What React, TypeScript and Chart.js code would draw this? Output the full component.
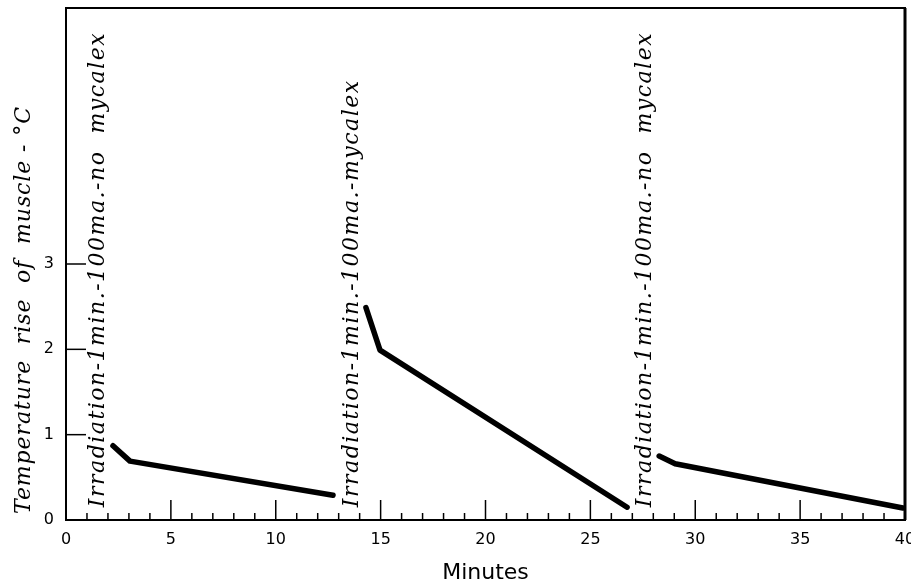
import React, { useEffect, useRef } from "react";
import { Chart, registerables } from "chart.js";

Chart.register(...registerables);

// ---- data ----
const seg1Minutes = [2.24, 3.05, 12.73];
const seg1Rise = [0.87, 0.69, 0.29];
const seg2Minutes = [14.3, 14.97, 26.75];
const seg2Rise = [2.49, 1.99, 0.15];
const seg3Minutes = [28.28, 29.04, 39.9];
const seg3Rise = [0.75, 0.66, 0.14];

const yTickLabels = [0, 1, 2, 3];
const xMajorStep = 5;
const xRange = [0, 40];
const yRange = [0, 6];

const annotationTexts = [
  "Irradiation-1min.-100ma.-no  mycalex",
  "Irradiation-1min.-100ma.-mycalex",
  "Irradiation-1min.-100ma.-no  mycalex",
];
const annotationMinutes = [1.53, 13.64, 27.6];
const annotationStartRise = [0.15, 0.15, 0.15];

const yTitle = "Temperature  rise  of  muscle - °C";
const xTitle = "Minutes";

const toPoints = (xs: number[], ys: number[]) => xs.map((x, i) => ({ x, y: ys[i] }));

const decorPlugin = {
  id: "decor",
  afterDraw(chart: any) {
    const { ctx, chartArea } = chart;
    const xs = chart.scales.x;
    const ys = chart.scales.y;
    ctx.save();
    ctx.strokeStyle = "#000";
    ctx.fillStyle = "#000";
    // frame
    ctx.lineWidth = 2;
    ctx.strokeRect(chartArea.left, chartArea.top, chartArea.right - chartArea.left, chartArea.bottom - chartArea.top);
    ctx.lineWidth = 3;
    ctx.beginPath();
    ctx.moveTo(chartArea.right, chartArea.top);
    ctx.lineTo(chartArea.right, chartArea.bottom);
    ctx.stroke();
    // x ticks (inward)
    ctx.lineWidth = 1.5;
    for (let m = xRange[0] + 1; m < xRange[1]; m++) {
      const px = xs.getPixelForValue(m);
      const len = m % xMajorStep === 0 ? 20 : 7;
      ctx.beginPath();
      ctx.moveTo(px, chartArea.bottom);
      ctx.lineTo(px, chartArea.bottom - len);
      ctx.stroke();
    }
    // y ticks (inward)
    for (const v of yTickLabels) {
      if (v === 0) continue;
      const py = ys.getPixelForValue(v);
      ctx.beginPath();
      ctx.moveTo(chartArea.left, py);
      ctx.lineTo(chartArea.left + 20, py);
      ctx.stroke();
    }
    // annotations
    ctx.font = "italic 22px 'DejaVu Serif'";
    (ctx as any).letterSpacing = "1.5px";
    ctx.textAlign = "left";
    ctx.textBaseline = "middle";
    annotationTexts.forEach((t, i) => {
      const px = xs.getPixelForValue(annotationMinutes[i]);
      const py = ys.getPixelForValue(annotationStartRise[i]);
      ctx.save();
      ctx.translate(px, py);
      ctx.rotate(-Math.PI / 2);
      ctx.fillText(t, 0, 0);
      ctx.restore();
    });
    // y title
    ctx.font = "italic 22px 'DejaVu Serif'";
    (ctx as any).letterSpacing = "0.9px";
    ctx.textAlign = "center";
    ctx.save();
    ctx.translate(24, (chartArea.top + chartArea.bottom) / 2 + 46);
    ctx.rotate(-Math.PI / 2);
    ctx.fillText(yTitle, 0, 0);
    ctx.restore();
    ctx.restore();
  },
};

export default function App() {
  const ref = useRef<HTMLCanvasElement | null>(null);
  useEffect(() => {
    if (!ref.current) return;
    const lineStyle = {
      borderColor: "#000",
      borderWidth: 5.5,
      pointRadius: 0,
      borderCapStyle: "round" as const,
      borderJoinStyle: "round" as const,
      tension: 0,
      fill: false,
    };
    const chart = new Chart(ref.current, {
      type: "line",
      data: {
        datasets: [
          { ...lineStyle, data: toPoints(seg1Minutes, seg1Rise) },
          { ...lineStyle, data: toPoints(seg2Minutes, seg2Rise) },
          { ...lineStyle, data: toPoints(seg3Minutes, seg3Rise) },
        ],
      },
      options: {
        animation: false,
        responsive: false,
        layout: { padding: { top: 8, right: 6, left: 0, bottom: 0 } },
        plugins: { legend: { display: false }, tooltip: { enabled: false } },
        scales: {
          x: {
            type: "linear",
            min: xRange[0],
            max: xRange[1],
            grid: { display: true, drawOnChartArea: false, drawTicks: false },
            border: { display: false },
            ticks: {
              stepSize: xMajorStep,
              padding: 10,
              color: "#000",
              font: { family: "'DejaVu Sans'", size: 16 },
              maxRotation: 0,
            },
            title: {
              display: true,
              text: xTitle,
              color: "#000",
              font: { family: "'DejaVu Sans'", size: 22 },
              padding: { top: 0, bottom: 0 },
            },
            afterFit(scale: any) {
              scale.height = 66;
              scale.paddingLeft = 0;
              scale.paddingRight = 0;
            },
          },
          y: {
            type: "linear",
            min: yRange[0],
            max: yRange[1],
            grid: { display: true, drawOnChartArea: false, drawTicks: false },
            border: { display: false },
            ticks: {
              stepSize: 1,
              padding: 12,
              color: "#000",
              font: { family: "'DejaVu Sans'", size: 16 },
              callback: (v: any) => (yTickLabels.includes(Number(v)) ? String(v) : ""),
            },
            afterFit(scale: any) {
              scale.width = 66;
              scale.paddingTop = 0;
              scale.paddingBottom = 0;
            },
          },
        },
      },
      plugins: [decorPlugin],
    });
    return () => chart.destroy();
  }, []);
  return (
    <div style={{ position: "fixed", left: 0, top: 0, width: 911, height: 586, background: "#fff" }}>
      <canvas ref={ref} width={911} height={586} />
    </div>
  );
}
